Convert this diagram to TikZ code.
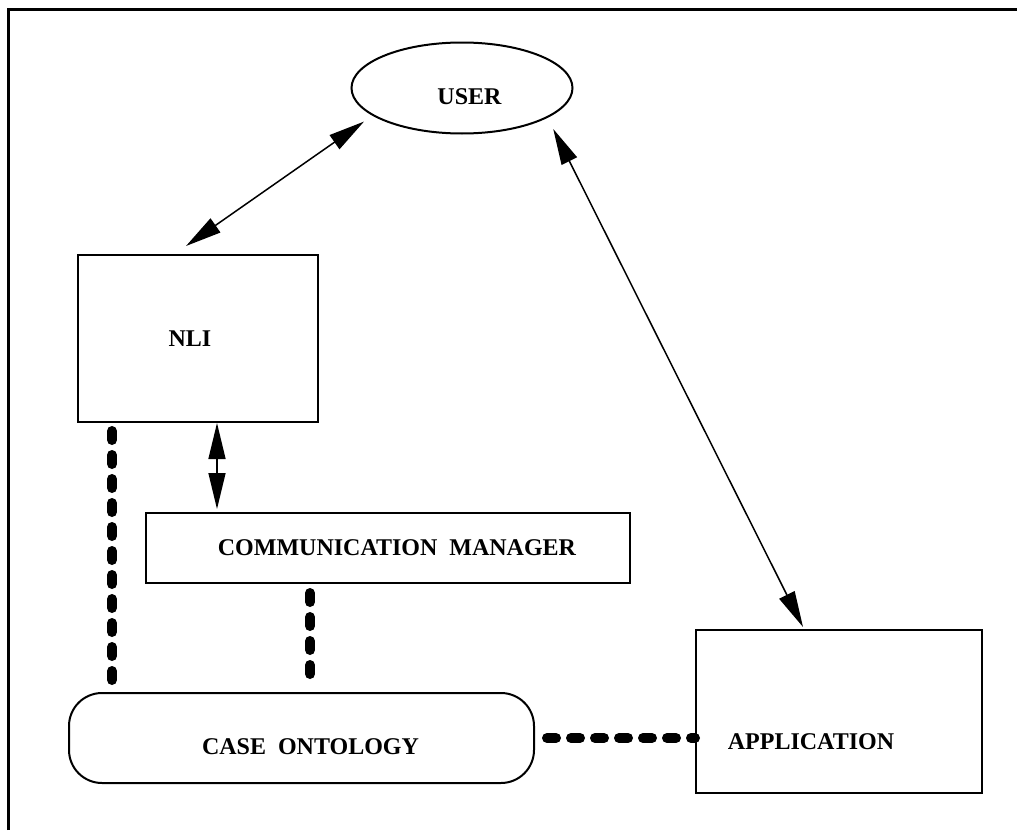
\documentclass[tikz,border=0pt]{standalone}
\usepackage{fontspec}
\setmainfont{Liberation Serif}
\usetikzlibrary{arrows.meta,shapes.geometric}

\begin{document}
\begin{tikzpicture}[x=0.5pt,y=-0.5pt,
		block/.style={draw=black, line width=1pt, font=\fontsize{12pt}{14pt}\selectfont\bfseries},
		link/.style={{Triangle[length=18pt,width=8.5pt]}-{Triangle[length=18pt,width=8.5pt]}, line width=0.75pt},
		dots/.style={line width=5pt, line cap=round, dash pattern=on 4.5pt off 7.5pt}
	]
	\useasboundingbox (0,0) rectangle (1017,830);
	% outer frame
	\draw[line width=1.5pt] (8,830) -- (8,9) -- (1017,9);

	\node[block, ellipse, minimum width=110.5pt, minimum height=45.5pt] (user) at (462,88) {\hspace*{7.5pt}\raisebox{0pt}[17pt]{USER}};
	\node[block, minimum width=120pt, minimum height=83.5pt] (nli) at (198,338.5) {NLI\hspace*{8pt}};
	\node[block, minimum width=242pt, minimum height=35pt] (cm) at (388,548) {\hspace*{9pt}COMMUNICATION\ \ MANAGER};
	\node[block, rounded corners=16.5pt, minimum width=232.5pt, minimum height=45pt] (onto) at (301.5,738) {\hspace*{9pt}\raisebox{0pt}[17pt]{CASE\ \ ONTOLOGY}};
	\node[block, minimum width=143pt, minimum height=81.5pt] (app) at (839,711.5) {\raisebox{0pt}[38pt]{APPLICATION}\hspace*{28pt}};

	\draw[link] ([shift={(-14,3)}]user.200) -- ([shift={(-12,-8)}]nli.north);
	\draw[link] ([shift={(15,7)}]user.-24) -- ([shift={(-36,-2)}]app.north);
	\draw[link] ([xshift=9.5pt]nli.south) -- ([xshift=9.5pt,yshift=1.5pt]nli.south |- cm.north);

	\draw[dots] ([shift={(35,8)}]nli.south west) -- ([shift={(35,-6)}]nli.south west |- onto.north);
	\draw[dots] ([shift={(-78,9)}]cm.south) -- ([shift={(-78,-4)}]cm.south |- onto.north);
	\draw[dots] ([xshift=6pt]onto.east) -- (onto.east -| app.west);
\end{tikzpicture}
\end{document}
